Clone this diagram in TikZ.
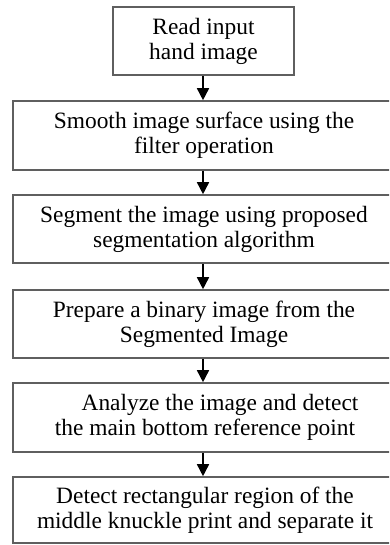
\documentclass[tikz,border=0pt]{standalone}
\usepackage{fontspec}
\setmainfont{Liberation Serif}
\usetikzlibrary{arrows.meta}
\definecolor{boxline}{RGB}{95,95,95}
\begin{document}
\begin{tikzpicture}[x=1pt,y=-1pt,
  stepbox/.style={draw=boxline, line width=1.6pt, rectangle, inner sep=0pt,
    align=center, font=\fontsize{23.4}{25}\selectfont, text=black},
  flow/.style={line width=1.6pt, -{Triangle[width=12pt,length=12pt]}}]
\useasboundingbox (0,0) rectangle (389,545);
\clip (0,0) rectangle (389,545);
\node[stepbox, minimum width=181pt, minimum height=68pt] (b1) at (203.5,41) {Read input\\hand image};
\node[stepbox, minimum width=384pt, minimum height=69pt] (b2) at (205,135.5) {};
\node[stepbox, minimum width=384pt, minimum height=68pt] (b3) at (205,229) {};
\node[stepbox, minimum width=384pt, minimum height=68pt] (b4) at (205,324) {};
\node[stepbox, minimum width=384pt, minimum height=69pt] (b5) at (205,417.5) {};
\node[stepbox, minimum width=384pt, minimum height=66pt] (b6) at (205,510) {};
\node[stepbox, draw=none] (t2) at (204,135.5) {Smooth image surface using the\\filter operation};
\node[stepbox, draw=none] (t3) at (204,229) {Segment the image using proposed\\segmentation algorithm};
\node[stepbox, draw=none] (t4) at (204,324) {Prepare a binary image from the\\Segmented Image};
\node[stepbox, draw=none] (t5) at (205,417.5) {\hspace*{30pt}Analyze the image and detect\\the main bottom reference point};
\node[stepbox, draw=none] (t6) at (205,510) {Detect rectangular region of the\\middle knuckle print and separate it};
\draw[flow] (b1.south -| 203,0) -- (b2.north -| 203,0);
\draw[flow] (b2.south -| 203,0) -- (b3.north -| 203,0);
\draw[flow] (b3.south -| 203,0) -- (b4.north -| 203,0);
\draw[flow] (b4.south -| 203,0) -- (b5.north -| 203,0);
\draw[flow] (b5.south -| 203,0) -- (b6.north -| 203,0);
\end{tikzpicture}
\end{document}
